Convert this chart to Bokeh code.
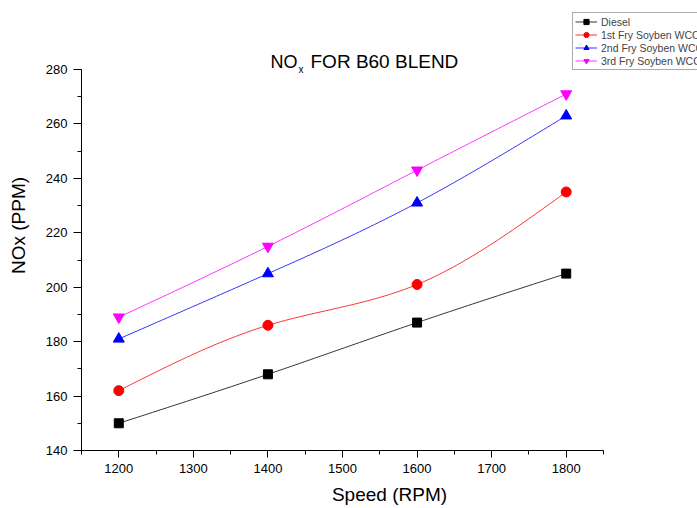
import numpy as np
from bokeh.plotting import figure
from bokeh.models import Range1d, FixedTicker, Label, Legend
from bokeh.embed import file_html
from bokeh.resources import INLINE

# Engine speed (RPM) and NOx emissions (PPM) for the B60 blend
speed = [1200, 1400, 1600, 1800]
diesel = [150, 168, 187, 205]
fry1 = [162, 186, 201, 235]
fry2 = [181, 205, 231, 263]
fry3 = [189, 215, 243, 271]

series_names = ["Diesel", "1st Fry Soyben WCO", "2nd Fry Soyben WCO", "3rd Fry Soyben WCO"]
x_ticks = [1200, 1300, 1400, 1500, 1600, 1700, 1800]
y_ticks = [140, 160, 180, 200, 220, 240, 260, 280]

FONT = "Liberation Sans"

# Page geometry (pixels): the drawn axes span 1150-1850 and 140-280
W, H = 697, 508
AX_LEFT, AX_RIGHT, AX_TOP, AX_BOTTOM = 81, 603, 69, 450
X_LO, X_HI, Y_LO, Y_HI = 1150, 1850, 140, 280


def natural_spline(xs, ys, n=120):
    """Smooth connecting curve through the measured points (natural cubic spline)."""
    x = np.asarray(xs, dtype=float)
    y = np.asarray(ys, dtype=float)
    m = len(x)
    h = np.diff(x)
    A = np.zeros((m, m))
    b = np.zeros(m)
    A[0, 0] = A[-1, -1] = 1.0
    for i in range(1, m - 1):
        A[i, i - 1] = h[i - 1]
        A[i, i] = 2 * (h[i - 1] + h[i])
        A[i, i + 1] = h[i]
        b[i] = 6 * ((y[i + 1] - y[i]) / h[i] - (y[i] - y[i - 1]) / h[i - 1])
    M = np.linalg.solve(A, b)
    xx = np.linspace(x[0], x[-1], n)
    yy = np.empty_like(xx)
    for k, xv in enumerate(xx):
        i = min(np.searchsorted(x, xv, side="right") - 1, m - 2)
        t0, t1 = x[i + 1] - xv, xv - x[i]
        yy[k] = (M[i] * t0 ** 3 / (6 * h[i]) + M[i + 1] * t1 ** 3 / (6 * h[i])
                 + (y[i] / h[i] - M[i] * h[i] / 6) * t0
                 + (y[i + 1] / h[i] - M[i + 1] * h[i] / 6) * t1)
    return xx, yy


# The frame reaches the top and right edges so the title and legend can sit
# there; the axes themselves are bounded to the data window.
x_scale = (AX_RIGHT - AX_LEFT) / (X_HI - X_LO)
y_scale = (AX_BOTTOM - AX_TOP) / (Y_HI - Y_LO)
x_end = X_HI + (W - AX_RIGHT) / x_scale
y_end = Y_HI + AX_TOP / y_scale

p = figure(width=W, height=H, output_backend="svg", toolbar_location=None,
           x_range=Range1d(X_LO, x_end), y_range=Range1d(Y_LO, y_end),
           min_border_left=AX_LEFT, min_border_right=0, min_border_top=0,
           min_border_bottom=H - AX_BOTTOM)
p.outline_line_color = None
p.xgrid.visible = False
p.ygrid.visible = False
p.background_fill_color = "white"
p.border_fill_color = "white"

styles = [
    (diesel, "black", "square", 9),
    (fry1, "red", "circle", 10),
    (fry2, "blue", "triangle", 11),
    (fry3, "magenta", "inverted_triangle", 11),
]

items = []
for (vals, color, marker, size), name in zip(styles, series_names):
    xx, yy = natural_spline(speed, vals)
    ln = p.line(xx, yy, line_color=color, line_width=1, line_alpha=0.8)
    sc = p.scatter(speed, vals, marker=marker, size=size, fill_color=color,
                   line_color=color)
    items.append((name, [ln, sc]))

legend = Legend(items=items, location=(491, 380), padding=2, margin=0,
                spacing=0, label_height=13, glyph_height=13, glyph_width=22,
                label_standoff=4, label_text_font=FONT,
                label_text_font_size="10.5px", border_line_color="#555555",
                border_line_width=1, background_fill_color="white",
                background_fill_alpha=1.0)
p.add_layout(legend, "center")

# Axes
for ax in (p.xaxis[0], p.yaxis[0]):
    ax.axis_line_color = "black"
    ax.axis_line_width = 1
    ax.major_tick_line_color = "black"
    ax.minor_tick_line_color = "black"
    ax.major_tick_in = 0
    ax.minor_tick_in = 0
    ax.major_label_text_font = FONT
    ax.major_label_text_font_size = "13px"
    ax.major_label_text_color = "black"
    ax.axis_label_text_font = FONT
    ax.axis_label_text_font_size = "19px"
    ax.axis_label_text_font_style = "normal"
    ax.axis_label_text_color = "black"
    ax.major_label_standoff = 6

p.xaxis.bounds = (X_LO, X_HI)
p.yaxis.bounds = (Y_LO, Y_HI)
p.xaxis.ticker = FixedTicker(ticks=x_ticks,
                             minor_ticks=list(range(X_LO, X_HI + 1, 50)))
p.yaxis.ticker = FixedTicker(ticks=y_ticks,
                             minor_ticks=list(range(Y_LO, Y_HI + 1, 10)))
p.xaxis.major_tick_out = 7
p.xaxis.minor_tick_out = 4
p.yaxis.major_tick_out = 8
p.yaxis.minor_tick_out = 4
p.xaxis.axis_label = "Speed (RPM)"
p.yaxis.axis_label = "NOx (PPM)"
p.xaxis.axis_label_standoff = 8
p.yaxis.axis_label_standoff = 14

# Title with subscript x
title_parts = [
    ("NO", 189, 389, "18px"),
    ("x", 217, 381, "10px"),
    ("FOR B60 BLEND", 229, 389, "19px"),
]
for txt, sx, sy, fs in title_parts:
    p.add_layout(Label(x=sx, y=sy, x_units="screen", y_units="screen",
                       text=txt, text_font=FONT, text_font_size=fs,
                       text_color="black", text_baseline="alphabetic",
                       text_align="left"))

open("out.html", "w").write(file_html(p, INLINE))
